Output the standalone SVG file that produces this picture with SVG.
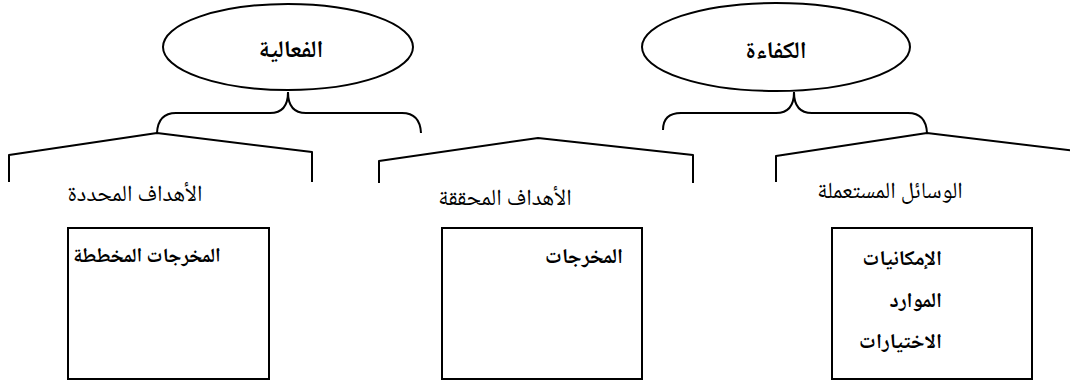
<svg xmlns="http://www.w3.org/2000/svg" width="1070" height="389" viewBox="0 0 1070 389">
<style>
.shape{fill:#fff;stroke:#000;stroke-width:2}
.line{fill:none;stroke:#000;stroke-width:2;stroke-linejoin:round}
.t{font-family:"Noto Naskh Arabic","Noto Sans Arabic","DejaVu Sans",serif;fill:#000}
.big{font-size:21px;font-weight:bold}
.head{font-size:24px;font-weight:bold}
.lab{font-size:23px}
</style>
<rect width="1070" height="389" fill="#fff"/>
<g id="connectors">
<path class="line" d="M288,92 Q288,113 270,113 L176,113 Q158,113 157,133"/>
<path class="line" d="M288,92 Q288,113 306,113 L402,113 Q420,113 421,133"/>
<path class="line" d="M794,92 Q794,113 776,113 L681,113 Q663,113 663,130"/>
<path class="line" d="M794,92 Q794,113 812,113 L908,113 Q926,113 927,133"/>
<path class="line" d="M9,182 L9,155 L157,133 L312,152 L312,182"/>
<path class="line" d="M379,183 L379,161 L538,138 L693,155 L693,183"/>
<path class="line" d="M776,182 L776,156 L927,133 L1076,151"/>
</g>
<g id="node-effectiveness">
<ellipse class="shape" cx="288" cy="47" rx="125" ry="43"/>
<text class="t head" x="291" y="57" text-anchor="middle">الفعالية</text>
</g>
<g id="node-efficiency">
<ellipse class="shape" cx="776" cy="47" rx="134" ry="44"/>
<text class="t head" x="776" y="58" text-anchor="middle">الكفاءة</text>
</g>
<g id="label-planned">
<text class="t lab" x="135" y="201" text-anchor="middle">الأهداف المحددة</text>
</g>
<g id="label-achieved">
<text class="t lab" x="505" y="205" text-anchor="middle">الأهداف المحققة</text>
</g>
<g id="label-means">
<text class="t lab" x="890" y="198" text-anchor="middle">الوسائل المستعملة</text>
</g>
<g id="box-planned">
<rect class="shape" x="68" y="228" width="201" height="151"/>
<text class="t big" x="147" y="262" text-anchor="middle" style="font-size:20px">المخرجات المخططة</text>
</g>
<g id="box-outputs">
<rect class="shape" x="442" y="228" width="200" height="151"/>
<text class="t big" x="623" y="263" text-anchor="end">المخرجات</text>
</g>
<g id="box-resources">
<rect class="shape" x="832" y="228" width="200" height="151"/>
<text class="t big" x="942" y="265" text-anchor="end">الإمكانيات</text>
<text class="t big" x="942" y="307" text-anchor="end">الموارد</text>
<text class="t big" x="942" y="348" text-anchor="end">الاختيارات</text>
</g>
</svg>
